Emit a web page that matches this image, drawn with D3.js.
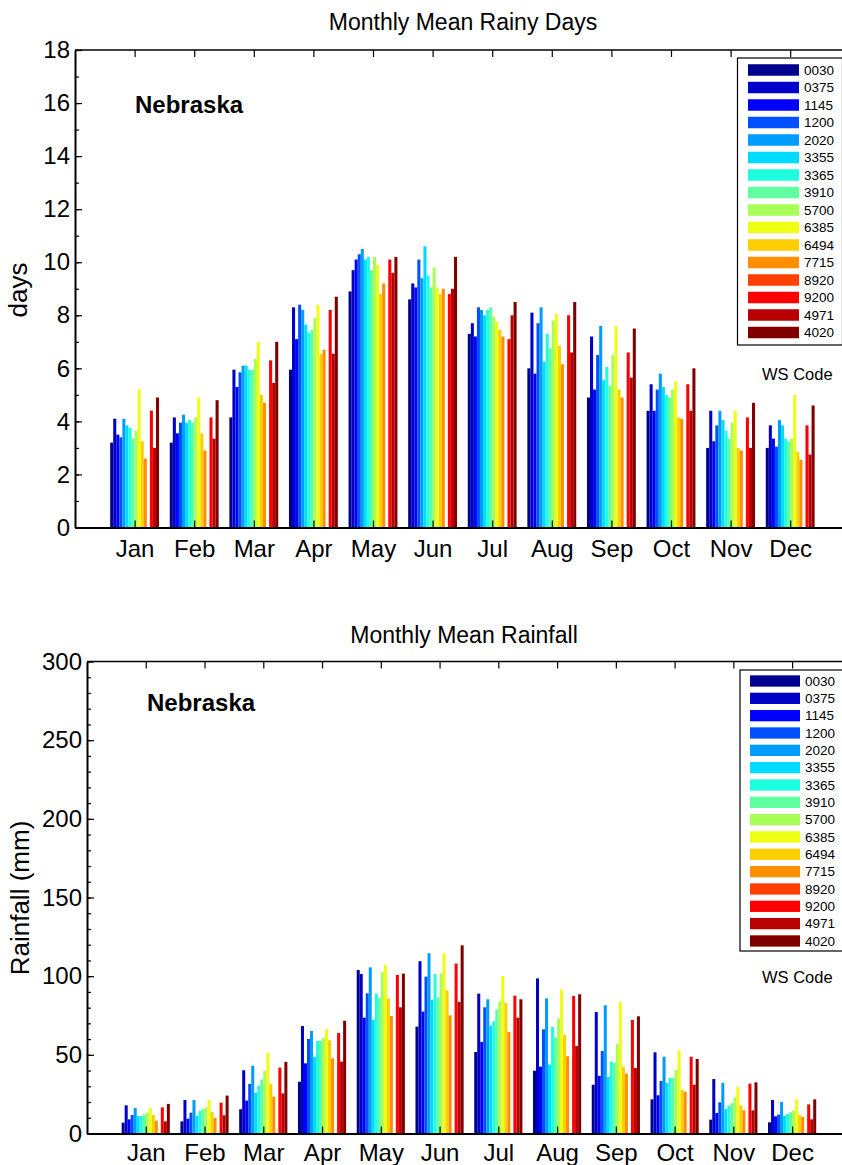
<!DOCTYPE html>
<html>
<head>
<meta charset="utf-8">
<script src="https://cdn.jsdelivr.net/npm/d3@7"></script>
<style>
  html, body { margin: 0; padding: 0; background: #fff; }
  svg { display: block; font-family: "Liberation Sans", Arial, Helvetica, sans-serif; }
</style>
</head>
<body>
<svg id="chart" width="842" height="1165"></svg>
<script>
// ---------------- data ----------------
const months = ["Jan","Feb","Mar","Apr","May","Jun","Jul","Aug","Sep","Oct","Nov","Dec"];
const stations = ["0030","0375","1145","1200","2020","3355","3365","3910","5700","6385","6494","7715","8920","9200","4971","4020"];
const stationColors = ["#00008f","#0000c8","#0000ff","#0050ff","#009cff","#00dcff","#1effe0","#60ffa0",
                       "#a8ff58","#eeff12","#ffce00","#ff8e00","#ff4000","#ff0000","#b80000","#800000"];

// rows = months (Jan..Dec), columns = stations in the order above
const rainyDays = [
  [3.2, 4.1, 3.5, 3.4, 4.1, 3.85, 3.75, 3.35, 3.65, 5.2, 3.25, 2.6, 0, 4.4, 3.0, 4.9],
  [3.2, 4.15, 3.55, 3.95, 4.25, 3.95, 4.05, 3.95, 4.15, 4.9, 3.55, 2.9, 0, 4.15, 3.35, 4.8],
  [4.15, 5.95, 5.3, 5.85, 6.1, 6.1, 5.95, 5.95, 6.35, 7.0, 5.0, 4.7, 0, 6.3, 5.45, 7.0],
  [5.95, 8.3, 7.1, 8.4, 8.2, 7.65, 7.35, 7.45, 7.9, 8.4, 6.55, 6.7, 0, 8.2, 6.55, 8.7],
  [8.9, 9.7, 10.1, 10.3, 10.5, 10.1, 10.2, 9.7, 10.2, 9.9, 8.8, 9.2, 0, 10.1, 9.6, 10.2],
  [8.6, 9.2, 9.05, 10.1, 9.4, 10.6, 9.5, 9.05, 9.8, 9.05, 8.8, 9.0, 0, 8.8, 9.0, 10.2],
  [7.3, 7.7, 7.2, 8.3, 8.2, 8.0, 8.2, 8.3, 7.95, 7.75, 7.45, 7.2, 0, 7.1, 8.0, 8.5],
  [6.0, 8.1, 5.8, 7.7, 8.3, 6.25, 7.3, 6.75, 7.8, 8.05, 6.85, 6.15, 0, 8.0, 6.6, 8.5],
  [4.9, 7.2, 5.2, 6.5, 7.6, 5.55, 6.05, 5.35, 6.5, 7.6, 5.2, 4.9, 0, 6.6, 5.65, 7.5],
  [4.4, 5.4, 4.4, 5.2, 5.8, 5.3, 5.0, 4.9, 5.2, 5.5, 4.15, 4.1, 0, 5.4, 4.4, 6.0],
  [3.0, 4.4, 3.25, 3.85, 4.4, 4.05, 3.65, 3.35, 3.95, 4.4, 3.0, 2.9, 0, 4.15, 3.0, 4.7],
  [3.0, 3.85, 3.35, 3.05, 4.05, 3.85, 3.35, 3.25, 3.35, 5.0, 2.85, 2.55, 0, 3.85, 2.75, 4.6]
];

const rainfall = [
  [6.9, 17.9, 9.0, 11.8, 16.2, 11.1, 11.1, 12.2, 13.2, 16.2, 11.8, 8.1, 0, 16.6, 7.7, 18.8],
  [7.7, 21.3, 9.4, 13.2, 21.3, 11.1, 14.3, 15.4, 16.6, 21.2, 13.7, 9.9, 0, 19.6, 11.6, 24.1],
  [15.4, 40.2, 20.9, 31.5, 43.1, 25.9, 30.4, 34.4, 39.9, 51.4, 31.5, 23.4, 0, 41.9, 25.5, 45.5],
  [32.9, 68.3, 44.6, 60.1, 65.2, 48.6, 58.8, 58.8, 60.7, 66.2, 59.2, 47.8, 0, 63.9, 45.7, 71.7],
  [103.9, 101.4, 73.6, 89.1, 105.6, 72.2, 89.0, 86.3, 102.5, 107.1, 85.9, 74.7, 0, 100.8, 80.2, 101.6],
  [67.9, 109.5, 77.5, 99.7, 114.5, 84.9, 101.4, 86.6, 101.8, 114.5, 91.0, 75.1, 0, 108.0, 83.6, 119.6],
  [51.8, 88.9, 58.2, 80.2, 85.3, 68.6, 71.3, 78.7, 84.0, 100.1, 83.0, 64.5, 0, 87.6, 73.6, 85.3],
  [39.9, 98.6, 42.5, 66.2, 85.9, 43.8, 67.7, 61.1, 73.0, 91.6, 62.8, 49.1, 0, 87.4, 55.6, 88.5],
  [31.0, 77.2, 36.6, 52.4, 81.5, 35.9, 45.5, 45.0, 56.9, 83.6, 42.3, 38.0, 0, 72.2, 41.6, 74.5],
  [21.7, 51.6, 24.3, 33.4, 48.8, 32.1, 35.3, 35.3, 40.4, 52.9, 27.9, 26.6, 0, 48.8, 31.0, 47.4],
  [8.8, 34.6, 13.0, 19.8, 32.1, 15.6, 17.5, 19.2, 23.0, 29.6, 17.9, 14.7, 0, 31.7, 14.7, 32.5],
  [7.1, 21.3, 10.9, 12.0, 20.0, 11.1, 12.4, 13.5, 14.7, 21.7, 11.8, 10.5, 0, 18.5, 9.0, 21.7]
];

const daysTicks = [0, 2, 4, 6, 8, 10, 12, 14, 16, 18];
const daysMinorTicks = d3.range(0, 19, 1);
const rainTicks = [0, 50, 100, 150, 200, 250, 300];
const rainMinorTicks = d3.range(0, 301, 10);

// ---------------- drawing ----------------
const svg = d3.select("#chart");

function drawPanel(cfg) {
  const g = svg.append("g");
  const x = d3.scaleLinear().domain([0, 13]).range([cfg.left, cfg.left + 13 * cfg.step]);
  const y = d3.scaleLinear().domain([0, cfg.yMax]).range([cfg.bottom, cfg.top]);
  const groupW = cfg.step * 0.82;
  const x1 = d3.scaleBand().domain(d3.range(stations.length)).range([-groupW / 2, groupW / 2]).padding(0);

  // bars
  cfg.data.forEach((row, m) => {
    g.append("g").selectAll("rect")
      .data(row.map((v, s) => ({ v, s })).filter(d => d.v > 0))
      .join("rect")
      .attr("x", d => x(m + 1) + x1(d.s))
      .attr("width", x1.bandwidth())
      .attr("y", d => y(d.v))
      .attr("height", d => y(0) - y(d.v))
      .attr("fill", d => stationColors[d.s]);
  });

  // frame: top & right
  const frame = g.append("g").attr("stroke", "#000").attr("fill", "none");
  frame.append("line").attr("x1", x(0)).attr("x2", x(13)).attr("y1", y(cfg.yMax)).attr("y2", y(cfg.yMax)).attr("stroke-width", 1.5);
  frame.append("line").attr("x1", x(13)).attr("x2", x(13)).attr("y1", y(0)).attr("y2", y(cfg.yMax)).attr("stroke-width", 1.5);

  // top mirror ticks
  const topAxis = g.append("g").attr("transform", `translate(0,${y(cfg.yMax)})`)
    .call(d3.axisTop(x).tickValues(d3.range(1, 13)).tickSize(-7).tickSizeOuter(0).tickFormat(""));
  topAxis.select(".domain").remove();
  topAxis.selectAll("line").attr("stroke-width", 1.2);

  // bottom axis
  const bx = g.append("g").attr("transform", `translate(0,${y(0)})`)
    .call(d3.axisBottom(x).tickValues(d3.range(1, 13)).tickFormat(i => months[i - 1])
      .tickSize(-7).tickSizeOuter(0).tickPadding(cfg.xPad));
  bx.select(".domain").attr("stroke-width", 2.2);
  bx.selectAll("line").attr("stroke-width", 1.2);
  bx.selectAll("text").attr("font-size", 24).attr("fill", "#000").attr("font-family", null);

  // left axis major
  const ly = g.append("g").attr("transform", `translate(${x(0)},0)`)
    .call(d3.axisLeft(y).tickValues(cfg.majorTicks).tickSize(-7).tickSizeOuter(0).tickPadding(5));
  ly.select(".domain").attr("stroke-width", 2);
  ly.selectAll("line").attr("stroke-width", 1.2);
  ly.selectAll("text").attr("font-size", 24).attr("fill", "#000").attr("font-family", null);

  // left axis minor
  const lm = g.append("g").attr("transform", `translate(${x(0)},0)`)
    .call(d3.axisLeft(y).tickValues(cfg.minorTicks).tickSize(-4).tickSizeOuter(0).tickFormat(""));
  lm.select(".domain").remove();
  lm.selectAll("line").attr("stroke-width", 1.2);

  // right mirror ticks
  const rm = g.append("g").attr("transform", `translate(${x(13)},0)`)
    .call(d3.axisRight(y).tickValues(cfg.majorTicks).tickSize(-7).tickSizeOuter(0).tickFormat(""));
  rm.select(".domain").remove();

  // title
  g.append("text").attr("x", cfg.titleX).attr("y", cfg.titleY).attr("text-anchor", "middle")
    .attr("font-size", 23).text(cfg.title);

  // y label
  g.append("text").attr("transform", `translate(${cfg.ylabelX},${cfg.ylabelY}) rotate(-90)`)
    .attr("text-anchor", "middle").attr("font-size", 26).text(cfg.ylabel);

  // state label
  g.append("text").attr("x", cfg.stateX).attr("y", cfg.stateY)
    .attr("font-size", 24).attr("font-weight", "bold").text("Nebraska");

  // legend
  const L = cfg.legend;
  const lg = g.append("g");
  lg.append("rect").attr("x", L.x).attr("y", L.y).attr("width", L.w).attr("height", L.h)
    .attr("fill", "#fff").attr("stroke", "#000").attr("stroke-width", 1.2);
  stations.forEach((s, i) => {
    const cy = L.firstY + i * L.rowStep;
    lg.append("rect").attr("x", L.swX).attr("y", cy - L.swH / 2).attr("width", L.swW).attr("height", L.swH)
      .attr("fill", stationColors[i]);
    lg.append("text").attr("x", L.textX).attr("y", cy + 4.8).attr("font-size", 13.5).text(s);
  });
  g.append("text").attr("x", L.wsX).attr("y", L.wsY).attr("font-size", 16.5).text("WS Code");
}

drawPanel({
  left: 75, step: 59.6, top: 50, bottom: 527.5, yMax: 18,
  majorTicks: daysTicks, minorTicks: daysMinorTicks, data: rainyDays, xPad: 12,
  title: "Monthly Mean Rainy Days", titleX: 463, titleY: 30,
  ylabel: "days", ylabelX: 27, ylabelY: 290,
  stateX: 135, stateY: 112.5,
  legend: { x: 737.5, y: 58, w: 105, h: 287, firstY: 70, rowStep: 17.5, swX: 748, swW: 51, swH: 11.5, textX: 804, wsX: 762, wsY: 380 }
});

drawPanel({
  left: 87, step: 58.76, top: 661.5, bottom: 1133.5, yMax: 300,
  majorTicks: rainTicks, minorTicks: rainMinorTicks, data: rainfall, xPad: 10,
  title: "Monthly Mean Rainfall", titleX: 464, titleY: 643,
  ylabel: "Rainfall (mm)", ylabelX: 29, ylabelY: 898,
  stateX: 147, stateY: 710.5,
  legend: { x: 740, y: 670, w: 103, h: 281, firstY: 681, rowStep: 17.33, swX: 750, swW: 50, swH: 11.3, textX: 805, wsX: 762, wsY: 983 }
});
</script>
</body>
</html>
